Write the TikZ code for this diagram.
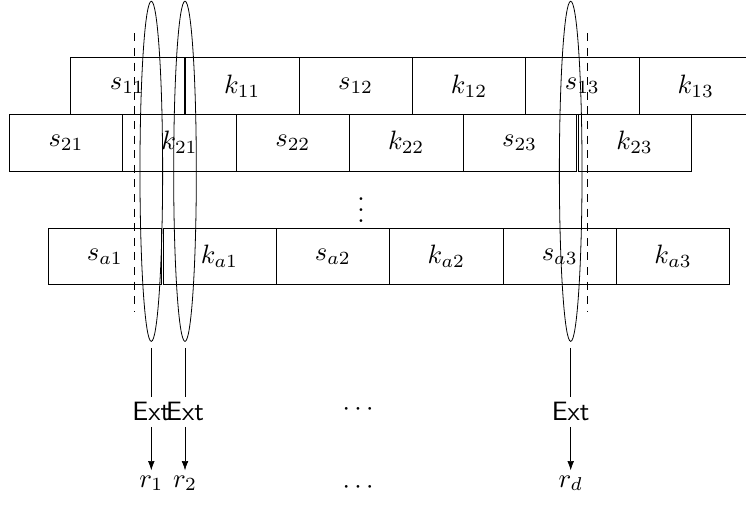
\documentclass[tikz,border=0pt]{standalone}
\usepackage{graphicx}
\usetikzlibrary{shapes.geometric,arrows.meta}
\newcommand{\twox}[1]{\scalebox{2}{#1}}
\begin{document}
\begin{tikzpicture}[x=0.026458cm,y=-0.026458cm,
  cell/.style={draw, line width=0.5pt, minimum width=3cm, minimum height=1.5cm, inner sep=0pt, anchor=north west},
  oval/.style={draw, line width=0.6pt, ellipse, minimum width=0.6cm, minimum height=9cm, inner sep=0pt},
  cut/.style={line width=0.5pt, dash pattern=on 6pt off 5pt},
  extnode/.style={inner sep=0pt, text height=13.9pt, text depth=0pt},
  outnode/.style={inner sep=0pt, anchor=base, text height=8.6pt},
  dotnode/.style={inner sep=0pt},
  link/.style={line width=0.5pt, shorten <=4.5pt, shorten >=3.75pt},
  outarrow/.style={line width=0.5pt, -{Latex[length=7pt,width=5pt]}, shorten <=4.5pt, shorten >=3.75pt}
]
\useasboundingbox (0,0) rectangle (746,504);
\clip (0,0) rectangle (746,504);

% row 1
\node[cell] (s11) at (70.3,57.3) {\twox{$s_{11}$}};
\node[cell] (k11) at (185.2,57.3) {\twox{$k_{11}$}};
\node[cell] (s12) at (298.6,57.3) {\twox{$s_{12}$}};
\node[cell] (k12) at (412.0,57.3) {\twox{$k_{12}$}};
\node[cell] (s13) at (525.4,57.3) {\twox{$s_{13}$}};
\node[cell] (k13) at (638.8,57.3) {\twox{$k_{13}$}};

% row 2
\node[cell] (s21) at (9.0,114.0) {\twox{$s_{21}$}};
\node[cell] (k21) at (122.4,114.0) {\twox{$k_{21}$}};
\node[cell] (s22) at (235.8,114.0) {\twox{$s_{22}$}};
\node[cell] (k22) at (349.2,114.0) {\twox{$k_{22}$}};
\node[cell] (s23) at (462.6,114.0) {\twox{$s_{23}$}};
\node[cell] (k23) at (577.6,114.0) {\twox{$k_{23}$}};

% row a
\node[cell] (sa1) at (47.8,227.7) {\twox{$s_{a1}$}};
\node[cell] (ka1) at (162.5,227.7) {\twox{$k_{a1}$}};
\node[cell] (sa2) at (275.9,227.7) {\twox{$s_{a2}$}};
\node[cell] (ka2) at (389.3,227.7) {\twox{$k_{a2}$}};
\node[cell] (sa3) at (502.7,227.7) {\twox{$s_{a3}$}};
\node[cell] (ka3) at (616.1,227.7) {\twox{$k_{a3}$}};

\node[dotnode] (vd) at (361,202) {\twox{$\vdots$}};

% dashed cuts
\coordinate (c1t) at (134,33.3);
\coordinate (c1b) at (134,312);
\coordinate (c2t) at (587.7,33.3);
\coordinate (c2b) at (587.7,312);
\draw[cut] (c1t) -- (c1b);
\draw[cut] (c2t) -- (c2b);

% ellipses
\node[oval] (e1) at (151.3,171.3) {};
\node[oval] (e2) at (185.0,171.3) {};
\node[oval] (ed) at (570.7,171.3) {};

% extractors
\node[extnode] (x1) at (151.3,411.5) {\twox{\textsf{Ext}}};
\node[extnode] (x2) at (185.0,411.5) {\twox{\textsf{Ext}}};
\node[extnode] (xd) at (570.7,411.5) {\twox{\textsf{Ext}}};
\node[dotnode] (hd1) at (358,409.3) {\twox{$\cdots$}};

\node[outnode] (r1) at (151.3,487) {\twox{$r_1$}};
\node[outnode] (r2) at (185.0,487) {\twox{$r_2$}};
\node[outnode] (rd) at (570.7,487) {\twox{$r_d$}};
\node[dotnode] (hd2) at (358,488) {\twox{$\cdots$}};

\draw[link] (e1.south) -- (x1.north);
\draw[link] (e2.south) -- (x2.north);
\draw[link] (ed.south) -- (xd.north);
\draw[outarrow] (x1.south) -- (r1.north);
\draw[outarrow] (x2.south) -- (r2.north);
\draw[outarrow] (xd.south) -- (rd.north);
\end{tikzpicture}
\end{document}
